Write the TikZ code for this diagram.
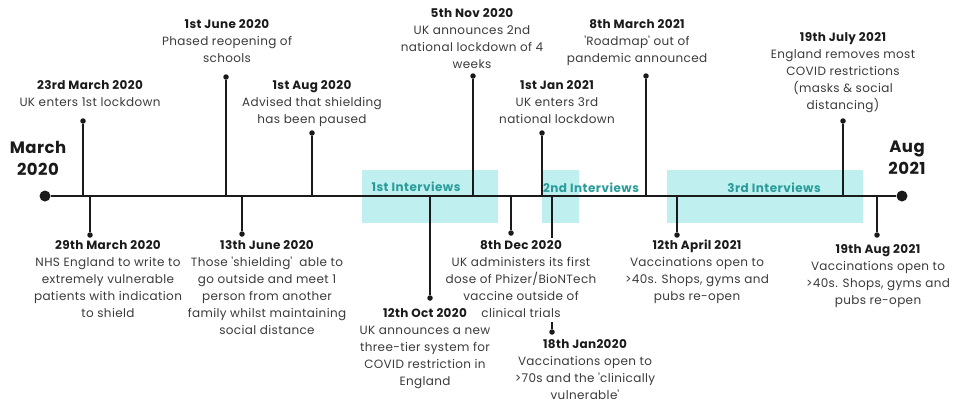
\documentclass[tikz,border=0pt]{standalone}
\usepackage{fontspec}
\setmainfont{Poppins}[LetterSpace=3]
\newfontfamily\labelfont{Poppins}[LetterSpace=4]
\begin{document}
\definecolor{linec}{HTML}{1A1A1A}
\definecolor{bodyc}{HTML}{3A3A3A}
\definecolor{bandc}{HTML}{BFEFEE}
\definecolor{tealc}{HTML}{2A9C9A}
\begin{tikzpicture}[x=1pt,y=-1pt,
  axisline/.style={line width=2pt, draw=linec},
  stem/.style={line width=1.4pt, draw=linec},
  dot/.style={circle, fill=linec, inner sep=0pt, minimum size=5.5pt},
  enddot/.style={circle, fill=linec, inner sep=0pt, minimum size=11pt},
  evt/.style={align=center, inner sep=0pt, anchor=north, text=bodyc,
    font=\fontsize{12}{17}\selectfont},
  band/.style={fill=bandc, draw=none},
  bandlabel/.style={text=tealc, inner sep=0pt, font=\labelfont\fontsize{12}{14}\selectfont\bfseries},
  endlabel/.style={align=center, inner sep=0pt, text=linec, font=\fontsize{16.5}{22}\selectfont\bfseries}
]
\newcommand{\ttl}[1]{{\color{linec}\bfseries #1}}
\newcommand{\sq}{\textquotesingle}
\useasboundingbox (0,0) rectangle (953,405);

% interview periods
\fill[band] (362,170) rectangle (498,223);
\fill[band] (542,170) rectangle (579,223);
\fill[band] (667,170) rectangle (863,223);
\node[bandlabel] (b1) at (416,187) {1st Interviews};
\node[bandlabel] (b2) at (591,188) {2nd Interviews};
\node[bandlabel] (b3) at (774,188) {3rd Interviews};

% timeline axis
\node[enddot] (start) at (45,196) {};
\node[enddot] (end) at (902,196) {};
\draw[axisline] (start) -- (end);
\node[endlabel] (lstart) at (38,158) {March\\2020};
\node[endlabel] (lend) at (907,158) {Aug\\2021};

% points on the axis
\foreach \n/\x in {u1/83,u2/226,u3/312,u4/473,u5/542,u6/646,u7/843,
                   l1/90,l2/242,l3/430,l4/511,l5/552,l6/677,l7/877}
  \coordinate (a\n) at (\x,196);

% stems above the axis
\node[dot] (du1) at (83,121) {};
\node[dot] (du2) at (226,77) {};
\node[dot] (du3) at (312,133) {};
\node[dot] (du4) at (473,76) {};
\node[dot] (du5) at (542,133) {};
\node[dot] (du6) at (646,76) {};
\node[dot] (du7) at (843,121) {};
\foreach \n in {u1,u2,u3,u4,u5,u6,u7}
  \draw[stem] (a\n) -- (d\n);

% stems below the axis
\node[dot] (dl1) at (90,235) {};
\node[dot] (dl2) at (242,234) {};
\node[dot] (dl3) at (430,298) {};
\node[dot] (dl4) at (511,233) {};
\node[dot] (dl5) at (552,332) {};
\node[dot] (dl6) at (677,235) {};
\node[dot] (dl7) at (877,235) {};
\foreach \n in {l1,l2,l3,l4,l6,l7}
  \draw[stem] (a\n) -- (d\n);
% the 18th Jan stem passes behind the 8th Dec text
\coordinate (gap1) at (552,238);
\coordinate (gap2) at (552,322);
\draw[stem] (al5) -- (gap1);
\draw[stem] (gap2) -- (dl5);

% events above
\node[evt] (eu1) at (90,80) {\ttl{23rd March 2020}\\UK enters 1st lockdown};
\node[evt] (eu2) at (227,19) {\ttl{1st June 2020}\\Phased reopening of\\schools};
\node[evt] (eu3) at (312,80) {\ttl{1st Aug 2020}\\Advised that shielding\\has been paused};
\node[evt] (eu4) at (472,8) {\ttl{5th Nov 2020}\\UK announces 2nd\\national lockdown of 4\\weeks};
\node[evt] (eu5) at (557,80) {\ttl{1st Jan 2021}\\UK enters 3rd\\national lockdown};
\node[evt] (eu6) at (637,19) {\ttl{8th March 2021}\\\sq Roadmap\sq{} out of\\pandemic announced};
\node[evt] (eu7) at (843,32) {\ttl{19th July 2021}\\England removes most\\COVID restrictions\\(masks \& social\\distancing)};

% events below
\node[evt] (el1) at (108,240) {\ttl{29th March 2020}\\NHS England to write to\\extremely vulnerable\\patients with indication\\to shield};
\node[evt] (el2) at (267,240) {\ttl{13th June 2020}\\Those \sq shielding\sq\ \ able to\\go outside and meet 1\\person from another\\family whilst maintaining\\social distance};
\node[evt] (el3) at (425,308) {\ttl{12th Oct 2020}\\UK announces a new\\three-tier system for\\COVID restriction in\\England};
\node[evt] (el4) at (521,240) {\ttl{8th Dec 2020}\\UK administers its first\\dose of Phizer/BioNTech\\vaccine outside of\\clinical trials};
\node[evt] (el5) at (585,339) {\ttl{18th Jan2020}\\Vaccinations open to\\>70s and the \sq clinically\\vulnerable\sq};
\node[evt] (el6) at (697,240) {\ttl{12th April 2021}\\Vaccinations open to\\>40s. Shops, gyms and\\pubs re-open};
\node[evt] (el7) at (878,244) {\ttl{19th Aug 2021}\\Vaccinations open to\\>40s. Shops, gyms and\\pubs re-open};
\end{tikzpicture}
\end{document}
